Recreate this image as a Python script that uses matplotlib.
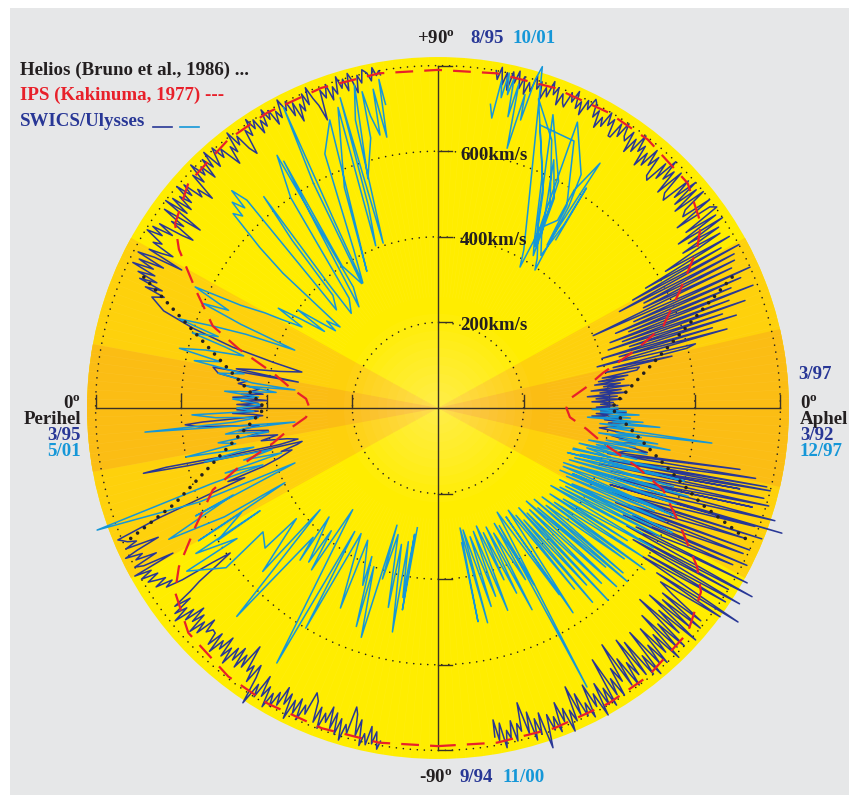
import numpy as np
import matplotlib
matplotlib.use('Agg')
import matplotlib.pyplot as plt
from matplotlib.patches import Circle, Wedge, Rectangle
from matplotlib.lines import Line2D

plt.rcParams['font.family'] = ['Liberation Serif', 'DejaVu Serif']
plt.rcParams['font.weight'] = 'bold'
plt.rcParams['mathtext.fontset'] = 'custom'
plt.rcParams['mathtext.rm'] = 'Liberation Serif:bold'
plt.rcParams['mathtext.it'] = 'Liberation Serif:bold'
plt.rcParams['mathtext.bf'] = 'Liberation Serif:bold'

DARK = '#283796'
LIGHT = '#1597d8'
RED = '#e8202a'
INK = '#231f20'

# (heliographic latitude [deg], solar wind speed [km/s])
# SWICS first orbit: 3/92 -> 9/94 (right, south)
db1 = [(-0.5, 420), (-1, 380), (-1.5, 440), (-2, 370), (-2.5, 410), (-3, 360), (-3.5, 430),
       (-4, 390), (-4.5, 450), (-5, 400), (-6, 420), (-7, 380), (-8, 460), (-9, 410), (-10, 470),
       (-11, 430), (-12, 500), (-13, 450),
       (-14, 430), (-11.5, 720), (-15, 410), (-12.5, 760), (-16, 450), (-13.5, 790), (-17, 420),
       (-14, 800), (-18, 440), (-15, 730), (-19, 400), (-15.5, 790), (-20, 430), (-16.5, 806),
       (-21, 460), (-17.5, 770), (-22, 420), (-18.5, 830), (-23, 470), (-20, 855), (-24, 440),
       (-20.5, 790), (-25, 480), (-22, 816), (-26, 450), (-23, 780), (-27, 500), (-24.5, 800),
       (-28, 470), (-25.5, 790), (-29, 520), (-27, 810), (-30, 500), (-28, 780), (-31, 540),
       (-29.5, 830), (-32, 520), (-31, 856), (-33, 560), (-32, 800), (-34, 550), (-33, 840),
       (-35, 600), (-34, 810), (-36, 590), (-35.5, 861), (-37, 640), (-36.5, 820), (-38, 660),
       (-38.5, 700), (-39, 790), (-39.5, 680), (-40, 800), (-40.5, 690), (-41, 780), (-41.5, 660),
       (-42, 810), (-42.5, 700), (-43, 770), (-43.5, 650), (-44, 800), (-44.5, 720), (-45, 790),
       (-45.5, 680), (-46, 810), (-46.5, 730), (-47, 780), (-47.5, 700), (-48, 800), (-48.5, 740),
       (-49, 790), (-49.5, 690), (-50, 810), (-50.5, 750), (-51, 800), (-51.5, 700), (-52, 790),
       (-52.5, 684), (-53, 780), (-53.5, 740), (-54, 800), (-54.5, 720), (-55, 790), (-55.3, 673),
       (-56, 770), (-56.5, 730), (-57, 800), (-57.5, 750), (-58, 790), (-58.5, 690), (-59, 810),
       (-59.5, 760), (-60, 800), (-60.5, 740), (-61, 820), (-61.5, 760), (-62, 790), (-62.5, 730),
       (-63, 810), (-63.5, 770), (-64, 800), (-64.5, 740), (-65, 790), (-65.5, 716), (-66, 800),
       (-66.5, 770), (-67, 820), (-67.5, 760), (-68, 790), (-68.5, 740), (-69, 810), (-69.5, 770),
       (-70, 800), (-70.5, 760), (-71.3, 838), (-71.8, 750), (-72.3, 800), (-72.8, 760),
       (-73.3, 810), (-73.8, 740), (-74.3, 790), (-75, 713), (-75.5, 780), (-76, 760), (-76.5, 800),
       (-77, 750), (-77.5, 790), (-78, 770), (-78.5, 810), (-79, 750), (-79.5, 790), (-80, 740),
       (-80.2, 780)]

# 9/94 -> 3/95 (perihelion) -> 8/95 (left)
db2 = [(-80.2, 790), (-79.8, 810), (-79.3, 770), (-78.8, 800), (-78.3, 760), (-77.8, 805),
       (-77.3, 780), (-76.8, 810), (-76.3, 750), (-75.8, 790), (-75.3, 740), (-74.8, 724),
       (-74.3, 790), (-73.8, 770), (-73.3, 810), (-72.8, 760), (-72.3, 800), (-71.8, 750),
       (-71.3, 790), (-70.8, 740), (-70.3, 780), (-69.8, 760), (-69.3, 800), (-68.8, 750),
       (-68.3, 790), (-67.8, 740), (-67.0, 723), (-66.5, 780), (-66, 760), (-65.5, 800),
       (-65, 750), (-64.5, 790), (-64, 760), (-63.5, 810), (-63, 750), (-62.5, 780), (-62, 740),
       (-61.5, 790), (-61, 760), (-60.5, 800), (-60, 770), (-59.5, 810), (-59, 760), (-58.5, 790),
       (-58, 740), (-57.5, 800), (-57, 770), (-56.5, 826), (-56, 760), (-55.5, 730), (-55, 780),
       (-54.5, 740), (-54, 760), (-53.3, 696), (-52.8, 760), (-52.3, 730), (-51.8, 770),
       (-51.3, 720), (-50.8, 760), (-50.3, 730), (-49.8, 780), (-49.3, 740), (-48.8, 770),
       (-48.3, 720), (-47.8, 760), (-47.3, 740), (-46.8, 780), (-46.3, 730), (-45.8, 770),
       (-45.3, 740), (-44.6, 738), (-44, 753), (-43.5, 720), (-43, 770), (-42.5, 740), (-42, 780),
       (-41.5, 730), (-41, 760), (-40.5, 720), (-40, 770), (-39.5, 740), (-39, 790), (-38.5, 750),
       (-38, 780), (-37.5, 730), (-37, 770), (-36.5, 720), (-36, 689), (-35.5, 640), (-34.9, 592),
       (-34.4, 640), (-33.9, 720), (-33.4, 760), (-32.9, 740), (-32.4, 780), (-31.9, 750),
       (-31.5, 769), (-31, 790), (-30.5, 760), (-30, 800), (-29.5, 770), (-29, 810), (-28.7, 706),
       (-28.2, 780), (-27.7, 800), (-27.2, 740), (-26.7, 790), (-26.2, 770), (-25.7, 810),
       (-25.3, 777), (-24.8, 720), (-24.3, 800), (-23.8, 770), (-23.3, 790), (-22.8, 800),
       (-22.4, 809),
       (-21.5, 700), (-20.3, 531), (-19.8, 480), (-19.3, 520), (-18.5, 430), (-17.5, 390),
       (-16, 355), (-15.5, 380), (-14.5, 340), (-13.8, 327), (-13.5, 450), (-13, 600),
       (-12.5, 705), (-12.3, 650), (-12.8, 500), (-13, 380), (-12.5, 335), (-11.5, 360),
       (-10.5, 420), (-9.5, 380), (-8.5, 450), (-7.5, 400), (-6.5, 470), (-5.5, 420), (-4.5, 560),
       (-3.8, 592), (-3.4, 550), (-3, 470), (-2.5, 410), (-2, 430), (-1.5, 480), (-1, 420),
       (-0.5, 470), (0, 430), (0.5, 410), (1, 470), (1.5, 420), (2, 460), (2.5, 400), (3, 480),
       (3.5, 430), (4, 460), (4.5, 410), (5, 440), (6, 420), (7, 470), (8, 450), (9, 520),
       (10.3, 534), (10.5, 332), (11, 480), (12, 430), (13, 380), (14, 350), (14.8, 329),
       (15.5, 400), (16.5, 500), (18, 600), (19.5, 680), (21.2, 717),
       (22, 690), (22.5, 740), (23, 700), (23.5, 760), (24, 719), (24.5, 770), (25, 730),
       (25.5, 790), (26, 740), (26.5, 780), (27, 720), (27.5, 790), (28, 750), (28.3, 680),
       (28.8, 770), (29.2, 740), (29.7, 713), (30.2, 770), (30.7, 750), (31.5, 797), (32, 760),
       (32.5, 790), (33, 740), (33.5, 780), (34, 720), (34.4, 694), (35, 760), (35.5, 730),
       (36, 790), (36.8, 694), (37.3, 800), (37.8, 742), (38.3, 790), (38.8, 740), (39.3, 780),
       (39.8, 750), (40.3, 800), (40.8, 760), (41.3, 790), (41.8, 740), (42.3, 759), (42.9, 720),
       (43.5, 790), (44, 760), (44.5, 810), (45, 770), (45.5, 790), (46, 750), (46.5, 800),
       (47, 770), (47.5, 810), (48, 760), (49, 805), (49.5, 770), (50, 790), (51, 736),
       (51.5, 780), (52, 760), (52.5, 810), (53, 770), (53.5, 790), (54, 750), (54.6, 730),
       (55.2, 790), (55.8, 770), (56.3, 810), (56.8, 780), (57.3, 800), (57.8, 760), (58.3, 790),
       (58.8, 770), (59.3, 810), (59.8, 780), (60.3, 800), (60.8, 760), (61.3, 790), (61.8, 770),
       (62.4, 812), (63, 780), (63.5, 800), (64, 760), (64.5, 790), (65, 740), (65.5, 780),
       (66, 760), (66.5, 800), (67, 770), (67.5, 810), (68, 780), (68.5, 760), (69, 721),
       (69.6, 792), (70.2, 770), (70.8, 800), (71.3, 760), (71.8, 790), (72.3, 770), (72.8, 810),
       (73.3, 780), (73.8, 800), (74.3, 770), (74.8, 810), (75.3, 790), (75.8, 760), (76.3, 800),
       (76.8, 780), (77.3, 810), (78, 800), (78.5, 780), (79, 810), (79.5, 790), (80, 800),
       (80.2, 790)]

# 8/95 -> 3/97 (right, north)
db3 = [(80.2, 800), (79.8, 780), (79.3, 810), (78.8, 770), (78.3, 800), (77.8, 760), (77.3, 805),
       (76.8, 780), (76.3, 810), (75.8, 770), (75.3, 800), (74.8, 760), (74.3, 790), (73.8, 770),
       (73.3, 810), (72.8, 780), (72.3, 800), (71.8, 760), (71.3, 790), (70.8, 770), (70.3, 810),
       (69.8, 780), (69.3, 800), (68.8, 760), (68.3, 790), (67.8, 770), (67.4, 762), (66.9, 800),
       (66.4, 780), (65.9, 810), (65.4, 770), (64.9, 790), (64.4, 760), (63.9, 800), (63.4, 780),
       (62.9, 810), (62.5, 803), (62, 770), (61.5, 790), (61, 750), (60.5, 780), (60, 760),
       (59.5, 800), (59, 770), (58.5, 790), (58, 750), (57.6, 750), (57.1, 790), (56.6, 760),
       (56.1, 800), (55.6, 770), (55.1, 761), (54.6, 790), (54.1, 740), (53.6, 780), (53.1, 750),
       (52.6, 800), (52.1, 760), (51.6, 780), (51.1, 730), (50.6, 770), (50.1, 740), (49.6, 790),
       (49.1, 750), (48.6, 780), (48.1, 730), (47.5, 722), (47, 780), (46.5, 740), (46, 800),
       (45.5, 750), (45, 780), (44.5, 720), (44, 790), (43.5, 730), (42.7, 716), (42.2, 790),
       (41.7, 740), (41.2, 800), (40.7, 730), (40.2, 790), (39.7, 720), (39.2, 800), (38.7, 740),
       (38, 726), (37.5, 800), (37, 700), (36.5, 790), (35.8, 803), (35.3, 710), (34.8, 790),
       (34.3, 680), (33.8, 800), (33.3, 700), (32.8, 780), (32.3, 677), (31.8, 775),
       (31, 620), (30.5, 790), (30, 560), (29.5, 760), (29, 520), (28.5, 800), (28, 480),
       (27.5, 780), (27, 540), (26.5, 774), (26, 534), (25.5, 760), (25, 400), (24.3, 800),
       (23.8, 500), (23.3, 770), (22.8, 450), (22.3, 740), (21.8, 480), (21.3, 790), (20.8, 430),
       (20.3, 725), (19.8, 458), (19.3, 760), (18.8, 420), (18.3, 700), (17.8, 470), (17.3, 730),
       (16.8, 400), (16.3, 668), (15.8, 440), (15.3, 700), (14.5, 384), (14, 620), (13.5, 598),
       (13, 420), (12.5, 560), (12, 400), (11.5, 480), (10.8, 473), (10.3, 390), (9.8, 450),
       (9.3, 380), (8.8, 440), (8.3, 370), (7.8, 430), (7.3, 390), (6.8, 450), (6.3, 360),
       (5.8, 430), (5.3, 380), (4.8, 440), (4.3, 350), (3.8, 420), (3.3, 370), (2.8, 430),
       (2.3, 360), (1.8, 410), (1.3, 380), (0.8, 420), (0.3, 370), (0, 400)]

# SWICS second orbit: 12/97 -> 11/00 (right, south)
lb1 = [(0, 420), (-0.5, 360), (-1, 440), (-1.5, 380), (-2, 470), (-2.5, 400), (-3, 450),
       (-3.5, 350), (-4, 480), (-4.5, 410), (-5, 520), (-5.5, 380), (-6, 460), (-6.5, 400),
       (-7.3, 645), (-7.8, 420), (-8.3, 480), (-8.8, 380), (-9.3, 520), (-9.8, 430), (-10.3, 551),
       (-10.8, 400), (-11.3, 470), (-12, 360), (-12.5, 500), (-13, 380), (-13.5, 430), (-14, 340),
       (-14.5, 480), (-15, 360), (-16, 420), (-16.5, 330),
       (-17, 330), (-15, 560), (-18, 350), (-16.5, 600), (-19, 320), (-17, 540), (-20, 340),
       (-18.5, 580), (-21.5, 330), (-19.5, 620), (-22.5, 360), (-21, 570), (-23.5, 320),
       (-22, 600), (-25, 323), (-24.4, 577), (-26, 350), (-24.5, 610), (-27, 320), (-25.5, 560),
       (-28, 340), (-26.5, 590), (-29.5, 360), (-28, 620), (-30.5, 330), (-29, 570), (-31.5, 350),
       (-30, 600), (-33, 340), (-31.5, 560), (-34.5, 320), (-33, 600), (-36, 362), (-35, 540),
       (-37.5, 330), (-36, 590), (-39, 350), (-38, 613), (-40.5, 320), (-39, 560), (-42, 340),
       (-41.7, 579), (-43.5, 310), (-42.5, 600), (-45, 330), (-43.5, 540), (-46.5, 300),
       (-45, 590), (-48, 320), (-47, 560), (-49.7, 322), (-48.5, 600), (-51, 300), (-50, 540),
       (-52.5, 330), (-51.5, 580), (-54, 310), (-53, 530), (-55.5, 290), (-56.6, 573), (-58, 300),
       (-57, 520), (-60.4, 280), (-61.9, 739), (-62.5, 310), (-61.5, 470), (-64, 300), (-63, 450),
       (-66, 320), (-65, 520), (-68, 300), (-67, 470), (-70, 310), (-69, 430), (-72, 290),
       (-71, 500), (-74, 300), (-73, 460), (-76, 310), (-75, 480), (-78.4, 291), (-77, 515),
       (-79.6, 285), (-79.4, 508), (-80, 320)]

# 11/00 -> 5/01 (perihelion) -> 10/01 (left)
lb2 = [(-80.2, 284), (-80, 479), (-79.5, 300), (-79.5, 450), (-77.5, 320), (-78.5, 534),
       (-75, 330), (-76, 480), (-72.5, 310), (-72, 420), (-70.7, 290), (-71.5, 565), (-68, 400),
       (-69.5, 545), (-66, 380), (-67, 450), (-62, 350), (-64, 520), (-58.5, 344), (-59, 600),
       (-56, 348), (-57.7, 705), (-50, 310), (-52, 480), (-49, 380), (-50, 470), (-45, 360),
       (-47.8, 480), (-46, 420), (-46, 677), (-40.8, 364), (-43, 560), (-38, 420), (-39, 520),
       (-35.3, 501), (-37, 620), (-33, 700), (-33, 560), (-31, 660), (-30, 480), (-31, 600),
       (-28, 520), (-29, 640), (-26, 398), (-27, 560), (-26, 700), (-23, 520), (-24, 620),
       (-21, 358), (-21.5, 600), (-19.7, 846), (-18.5, 560), (-18, 430), (-17, 520), (-16, 380),
       (-15, 470), (-14, 400), (-13, 560), (-12, 440), (-11, 600), (-10, 480), (-9, 520),
       (-8, 400), (-7, 500), (-6, 450), (-5.6, 336), (-4.7, 687), (-4, 480), (-3, 420),
       (-2.5, 520), (-1.6, 575), (-1, 430), (0, 470), (1, 410), (2, 450), (2.5, 480), (3.5, 420),
       (4.5, 500), (5.5, 380), (6.5, 450), (7.2, 337), (7.7, 438), (9, 520), (10, 460), (11, 580),
       (12, 520), (13, 620), (14, 560), (15, 470), (16, 518), (17, 600), (18, 540), (19, 640),
       (20, 560), (21, 480), (22, 361), (23, 500), (24, 600), (25, 540), (26.5, 634), (27.5, 520),
       (28.8, 461), (29.5, 420), (30.8, 370), (32, 440), (33, 380), (34, 320), (35, 400),
       (36, 340), (37, 300), (38, 330), (39.6, 297), (41, 480), (42, 560), (43.5, 660),
       (44.5, 640), (45, 680), (46, 650), (46.5, 700), (47.4, 660), (45.5, 420), (44, 330),
       (47, 360), (49, 520), (50.5, 640), (48.5, 380), (47.5, 300), (51, 330), (55, 600),
       (57.5, 700), (55, 345), (52, 300), (56.7, 545), (58, 680), (56, 400), (58.5, 341),
       (61, 600), (62.8, 790), (61, 500), (59, 341), (62, 420), (66, 650), (69.4, 719),
       (66, 480), (62.5, 360), (67, 560), (71.6, 740), (69, 406), (71, 500), (72.5, 760),
       (71.6, 406), (74, 700), (75.5, 780), (73, 560), (76, 650), (76.5, 760), (77, 700),
       (78, 652), (78.5, 760), (79.3, 644), (79.8, 780), (80.2, 720)]

# after 10/01 (right, north)
lb3 = [(80.2, 720), (79.5, 689), (79, 780), (78.5, 740), (78, 800), (77.5, 750), (77, 790),
       (76.5, 700), (76, 780), (75.1, 628), (74.5, 760), (74, 700), (73.5, 800), (73, 834),
       (66, 520), (61.5, 420), (59.8, 381), (60.5, 520), (62, 600), (68.6, 736), (62, 500),
       (56.5, 420), (54.9, 394), (57, 560), (58.5, 640), (64, 743), (60.5, 483), (57.5, 520),
       (58, 600), (56.5, 686), (56.2, 458), (57.5, 560), (63, 700), (70.2, 703), (64, 560),
       (59, 440), (61, 540), (67, 680), (72, 760), (66, 600), (60, 450), (58, 420), (61, 560),
       (65, 640), (59, 470), (56, 430), (55.5, 520), (56, 620), (55, 480)]

# Helios (Bruno et al., 1986)
helios_lat = [-23, -20, -15, -10, -5, 0, 5, 10, 15, 20, 24.5]
helios_v = [780, 655, 560, 492, 442, 405, 442, 492, 558, 650, 768]

# IPS (Kakinuma, 1977), same for both hemispheres
ips_lat = [0, 4, 8, 12, 14, 16.5, 20, 26, 31.5, 35, 42, 52, 60, 70, 80, 90]
ips_v = [300, 309, 350, 394, 430, 485, 560, 630, 710, 750, 785, 796, 797, 796, 794, 790]


def xy(lat, v, side):
    lat = np.radians(np.asarray(lat, float))
    v = np.asarray(v, float)
    return side * v * np.cos(lat), v * np.sin(lat)


W, H = 849, 795
S = 0.428          # pixels per km/s
CX, CY = 438, 408  # centre in pixels

fig = plt.figure(figsize=(W / 100, H / 100), dpi=100)
fig.patch.set_facecolor('white')
fig.add_artist(Rectangle((10 / W, 0), 1, 787 / H, transform=fig.transFigure,
                         color='#e6e7e8', lw=0, zorder=-5))

ax = fig.add_axes([0, 0, 1, 1])
ax.set_xlim(-CX / S, (W - CX) / S)
ax.set_ylim(-(H - CY) / S, CY / S)
ax.axis('off')
ax.patch.set_visible(False)

# background disk with the equatorial fans
ax.add_patch(Circle((0, 0), 820, color='#ffed00', lw=0, zorder=1))
for t1, t2, c in [(-29, 29, '#fed10c'), (151, 209, '#fed10c'),
                  (-13, 13, '#fbbd14'), (169.5, 190.5, '#fbbd14')]:
    ax.add_patch(Wedge((0, 0), 820, t1, t2, color=c, lw=0, zorder=1))
for r in np.arange(220, 10, -20):
    ax.add_patch(Circle((0, 0), r, color='white', alpha=0.03, lw=0, zorder=1.5))
# faint radial striation
for a in np.radians(np.arange(0, 360, 1.5)):
    ax.plot([260 * np.cos(a), 820 * np.cos(a)], [260 * np.sin(a), 820 * np.sin(a)],
            color='white', lw=0.3, alpha=0.08, zorder=1.6)

# dotted speed circles
th = np.linspace(0, 2 * np.pi, 721)
for r in (200, 400, 600, 800):
    ax.plot(r * np.cos(th), r * np.sin(th), color=INK, lw=1.2,
            ls=(0, (0.01, 4.2)), dash_capstyle='round', zorder=2)

# axes with ticks
ax.plot([-800, 800], [0, 0], color='#3a3225', lw=1.0, zorder=3)
ax.plot([0, 0], [-800, 800], color='#3a3225', lw=1.0, zorder=3)
for r in (200, 400, 600, 800):
    for sgn in (-1, 1):
        ax.plot([sgn * r, sgn * r], [0, 30], color='#3a3225', lw=1.0, zorder=3)
        ax.plot([0, 33], [sgn * r, sgn * r], color='#3a3225', lw=1.0, zorder=3)

# SWICS data
for seg, side, col in [(db1, 1, DARK), (db2, -1, DARK), (db3, 1, DARK),
                       (lb1, 1, LIGHT), (lb2, -1, LIGHT), (lb3, 1, LIGHT)]:
    lat, v = np.array(seg).T
    X, Y = xy(lat, v, side)
    ax.plot(X, Y, color=col, lw=1.1, solid_joinstyle='round', zorder=4)

# Helios dots
for side in (1, -1):
    X, Y = xy(helios_lat, helios_v, side)
    ax.plot(X, Y, color=INK, lw=2.6, ls=(0, (0.01, 2.4)), dash_capstyle='round', zorder=6)

# IPS dashed curve, one continuous path around
ips_lat = np.array(ips_lat, float)
ips_v = np.array(ips_v, float)
full_lat = np.concatenate([-ips_lat[::-1], ips_lat[1:], ips_lat[::-1][1:], -ips_lat[1:]])
full_v = np.concatenate([ips_v[::-1], ips_v[1:], ips_v[::-1][1:], ips_v[1:]])
n = len(ips_lat)
sides = np.concatenate([np.ones(2 * n - 1), -np.ones(2 * n - 2)])
X, Y = xy(full_lat, full_v, sides)
ax.plot(X, Y, color=RED, lw=1.6, ls=(0, (8, 5)), zorder=7)


def label(x, y, s, color=INK, ha='left', size=13.6):
    fig.text(x / W, 1 - y / H, s, color=color, ha=ha, va='baseline',
             fontsize=size, fontweight='bold')


label(20, 75, 'Helios (Bruno et al., 1986) ...')
label(20, 100, 'IPS (Kakinuma, 1977) ---', RED)
label(20, 126, 'SWICS/Ulysses', DARK)
fig.add_artist(Line2D([153 / W, 172 / W], [1 - 127 / H] * 2, color=DARK, lw=1.2))
fig.add_artist(Line2D([180 / W, 199 / W], [1 - 127 / H] * 2, color=LIGHT, lw=1.2))

label(455, 43, r'+90$^{\mathrm{o}}$', ha='right')
label(470, 43, '8/95', DARK)
label(513, 43, '10/01', LIGHT)
label(452, 782, r'-90$^{\mathrm{o}}$', ha='right')
label(460, 782, '9/94', DARK)
label(503, 782, '11/00', LIGHT)

label(81, 408, r'0$^{\mathrm{o}}$', ha='right')
label(81, 424, 'Perihel', ha='right')
label(81, 440, '3/95', DARK, ha='right')
label(81, 456, '5/01', LIGHT, ha='right')

label(798, 379, '3/97', DARK)
label(800, 408, r'0$^{\mathrm{o}}$')
label(800, 424, 'Aphel')
label(800, 440, '3/92', DARK)
label(800, 456, '12/97', LIGHT)

for v, y in [(200, 330), (400, 245), (600, 160)]:
    label(460, y, '%dkm/s' % v)

fig.savefig('out.png', dpi=100, facecolor=fig.get_facecolor())
